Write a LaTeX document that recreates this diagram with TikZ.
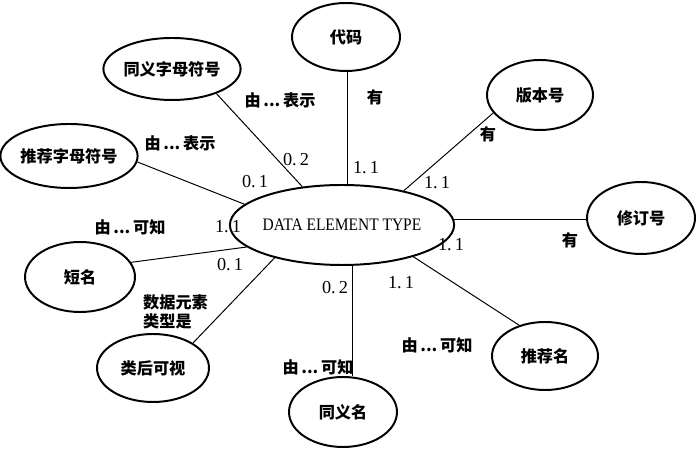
\documentclass[tikz,border=0pt]{standalone}
\usepackage{fontspec}
\setmainfont{Liberation Serif}
\newfontfamily\cjk{Noto Sans CJK SC}
\newfontfamily\dtfont{Liberation Serif}[FakeStretch=0.88]
\usetikzlibrary{shapes.geometric, calc}
\tikzset{
  every picture/.style={line width=0.7pt},
  attr/.style={ellipse, draw, line width=1.4pt, inner sep=0pt, font=\cjk\bfseries\fontsize{11.5}{13}\selectfont},
  link/.style={draw, line width=0.7pt},
  rel/.style={font=\cjk\bfseries\fontsize{11.5}{14}\selectfont, align=left},
  num/.style={font=\fontsize{13}{15}\selectfont},
}

\begin{document}
\begin{tikzpicture}
  \useasboundingbox (0,0) rectangle (17.5,11.3);
  % centre entity
  \node[attr, font=\dtfont\fontsize{12.5}{14}\selectfont, minimum width=4.5cm, minimum height=2cm] (dt) at (8.55,5.675) {DATA ELEMENT TYPE};
  % attributes round it
  \node[attr, minimum width=2.7cm, minimum height=1.7cm] (daima) at (8.65,10.375) {代码};
  \node[attr, minimum width=3.1cm, minimum height=1.55cm] (tyzm) at (4.3,9.575) {同义字母符号};
  \node[attr, minimum width=3.2cm, minimum height=1.6cm] (tjzm) at (1.725,7.4) {推荐字母符号};
  \node[attr, minimum width=2.65cm, minimum height=1.75cm] (bbh) at (13.5,8.925) {版本号};
  \node[attr, minimum width=2.7cm, minimum height=1.8cm] (xdh) at (16.025,5.85) {修订号};
  \node[attr, minimum width=2.75cm, minimum height=1.75cm] (dm) at (2.0,4.375) {短名};
  \node[attr, minimum width=2.8cm, minimum height=1.7cm] (lhkc) at (3.825,2.1) {类后可视};
  \node[attr, minimum width=2.7cm, minimum height=1.75cm] (tym) at (8.575,1.0) {同义名};
  \node[attr, minimum width=2.65cm, minimum height=1.7cm] (tjm) at (13.625,2.4) {推荐名};

  % connectors
  \draw[link] (dt.82) -- (dt.82 |- daima.south);
  \draw[link] (dt.136.5) -- (tyzm.-29);
  \draw[link] (dt.168.6) -- (tjzm.-5.5);
  \draw[link] (dt.29.7) -- (bbh.201);
  \draw[link] (dt.3) -- (dt.3 -| xdh.west);
  \draw[link] (dt.-24.8) -- (tjm.130);
  \draw[link] (dt.-76) -- (dt.-76 |- tym.north);
  \draw[link] (dt.193) -- (dm.16);
  \draw[link] (dt.206.6) -- (lhkc.32.7);

  % relation names
  \node[rel] (r1) at (9.375,8.875) {有};
  \node[rel] (r2) at (7.0,8.8) {由\,...\,表示};
  \node[rel] (r3) at (4.5,7.725) {由\,...\,表示};
  \node[rel] (r4) at (12.2,7.95) {有};
  \node[rel] (r5) at (3.25,5.625) {由\,...\,可知};
  \node[rel, anchor=west] (r6) at (3.45,3.5) {数据元素\\类型是};
  \node[rel] (r7) at (7.95,2.125) {由\,...\,可知};
  \node[rel] (r8) at (14.25,5.3) {有};
  \node[rel] (r9) at (10.925,2.675) {由\,...\,可知};

  % cardinalities
  \foreach \n/\x/\y/\t in {c1/9.15/7.1/1.\,1, c2/7.4/7.3/0.\,2, c3/6.375/6.75/0.\,1,
      c4/10.925/6.725/1.\,1, c5/5.7/5.625/1.\,1, c6/5.75/4.675/0.\,1,
      c7/8.375/4.1/0.\,2, c8/11.275/5.175/1.\,1, c9/10.025/4.225/1.\,1}
    \node[num] (\n) at (\x,\y) {\t};
\end{tikzpicture}
\end{document}
